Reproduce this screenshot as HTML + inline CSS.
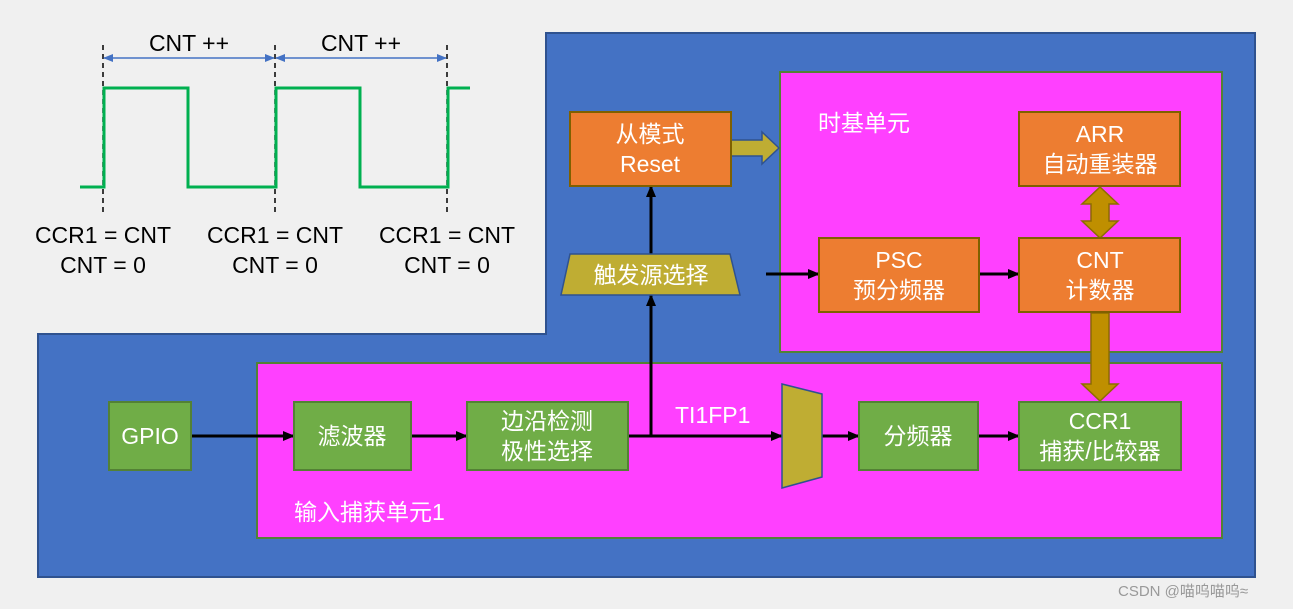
<!DOCTYPE html>
<html><head><meta charset="utf-8"><style>
body{margin:0;background:#f0f0f0;}
svg{display:block;}
text{font-family:"Liberation Sans","Noto Sans CJK SC",sans-serif;}
</style></head><body>
<svg width="1293" height="609" viewBox="0 0 1293 609" xmlns="http://www.w3.org/2000/svg">
<defs>
<marker id="a" markerWidth="12" markerHeight="12" refX="11" refY="6" orient="auto" markerUnits="userSpaceOnUse"><path d="M0,1 L12,6 L0,11 z" fill="#000"/></marker>
<marker id="ab" markerWidth="10" markerHeight="10" refX="9" refY="5" orient="auto-start-reverse" markerUnits="userSpaceOnUse"><path d="M0,1 L10,5 L0,9 z" fill="#4472c4"/></marker>
</defs>
<rect width="1293" height="609" fill="#f0f0f0"/>
<polygon points="546,33 1255,33 1255,577 38,577 38,334 546,334" fill="#4472c4" stroke="#2f528f" stroke-width="2"/>
<g stroke="#000" stroke-width="1.5" stroke-dasharray="5,4">
<line x1="103" y1="45" x2="103" y2="216"/><line x1="275" y1="45" x2="275" y2="216"/><line x1="447" y1="45" x2="447" y2="216"/>
</g>
<line x1="104" y1="58" x2="274" y2="58" stroke="#4472c4" stroke-width="1.5" marker-end="url(#ab)" marker-start="url(#ab)"/>
<line x1="276" y1="58" x2="446" y2="58" stroke="#4472c4" stroke-width="1.5" marker-end="url(#ab)" marker-start="url(#ab)"/>
<polyline points="80,187 104,187 104,88 188,88 188,187 276,187 276,88 360,88 360,187 448,187 448,88 470,88" fill="none" stroke="#00b050" stroke-width="3"/>
<g font-size="23" fill="#000" text-anchor="middle">
<text x="189" y="51">CNT ++</text><text x="361" y="51">CNT ++</text>
<text x="103" y="243">CCR1 = CNT</text><text x="103" y="273">CNT = 0</text>
<text x="275" y="243">CCR1 = CNT</text><text x="275" y="273">CNT = 0</text>
<text x="447" y="243">CCR1 = CNT</text><text x="447" y="273">CNT = 0</text>
</g>
<rect x="780" y="72" width="442" height="280" fill="#ff40ff" stroke="#538135" stroke-width="2"/>
<rect x="257" y="363" width="965" height="175" fill="#ff40ff" stroke="#538135" stroke-width="2"/>
<g fill="#fff" font-size="23">
<text x="818" y="131">时基单元</text>
<text x="294" y="520">输入捕获单元1</text>
<text x="675" y="423">TI1FP1</text>
</g>
<g stroke="#000" stroke-width="3" fill="none">
<line x1="191" y1="436" x2="294" y2="436" marker-end="url(#a)"/>
<line x1="411" y1="436" x2="467" y2="436" marker-end="url(#a)"/>
<line x1="628" y1="436" x2="782" y2="436" marker-end="url(#a)"/>
<line x1="822" y1="436" x2="859" y2="436" marker-end="url(#a)"/>
<line x1="978" y1="436" x2="1019" y2="436" marker-end="url(#a)"/>
<line x1="651" y1="436" x2="651" y2="295" marker-end="url(#a)"/>
<line x1="651" y1="254" x2="651" y2="186" marker-end="url(#a)"/>
<line x1="766" y1="274" x2="819" y2="274" marker-end="url(#a)"/>
<line x1="979" y1="274" x2="1019" y2="274" marker-end="url(#a)"/>
</g>
<polygon points="731,140 762,140 762,132 779,148 762,164 762,156 731,156" fill="#bfad33" stroke="#2f528f" stroke-width="1.5"/>
<polygon points="1100,187 1118,204 1109,204 1109,221 1118,221 1100,238 1082,221 1091,221 1091,204 1082,204" fill="#bf8f00" stroke="#8c6d00" stroke-width="1.5"/>
<polygon points="1091,313 1109,313 1109,384 1118,384 1100,401 1082,384 1091,384" fill="#bf8f00" stroke="#8c6d00" stroke-width="1.5"/>
<polygon points="570,254 730,254 740,295 561,295" fill="#bfad33" stroke="#2f528f" stroke-width="1.5"/>
<polygon points="782,384 822,394 822,477 782,488" fill="#bfad33" stroke="#2f528f" stroke-width="1.5"/>
<g fill="#ed7d31" stroke="#7f6000" stroke-width="2">
<rect x="570" y="112" width="161" height="74"/>
<rect x="819" y="238" width="160" height="74"/>
<rect x="1019" y="238" width="161" height="74"/>
<rect x="1019" y="112" width="161" height="74"/>
</g>
<g fill="#70ad47" stroke="#538135" stroke-width="2">
<rect x="109" y="402" width="82" height="68"/>
<rect x="294" y="402" width="117" height="68"/>
<rect x="467" y="402" width="161" height="68"/>
<rect x="859" y="402" width="119" height="68"/>
<rect x="1019" y="402" width="162" height="68"/>
</g>
<g fill="#fff" font-size="23" text-anchor="middle">
<text x="650" y="142">从模式</text><text x="650" y="172">Reset</text>
<text x="651" y="283">触发源选择</text>
<text x="899" y="268">PSC</text><text x="899" y="298">预分频器</text>
<text x="1100" y="268">CNT</text><text x="1100" y="298">计数器</text>
<text x="1100" y="142">ARR</text><text x="1100" y="172">自动重装器</text>
<text x="150" y="444">GPIO</text>
<text x="352" y="444">滤波器</text>
<text x="547" y="429">边沿检测</text><text x="547" y="459">极性选择</text>
<text x="918" y="444">分频器</text>
<text x="1100" y="429">CCR1</text><text x="1100" y="459">捕获/比较器</text>
</g>
<text x="1118" y="596" font-size="15" fill="#999">CSDN @喵呜喵呜≈</text>
</svg>
</body></html>
